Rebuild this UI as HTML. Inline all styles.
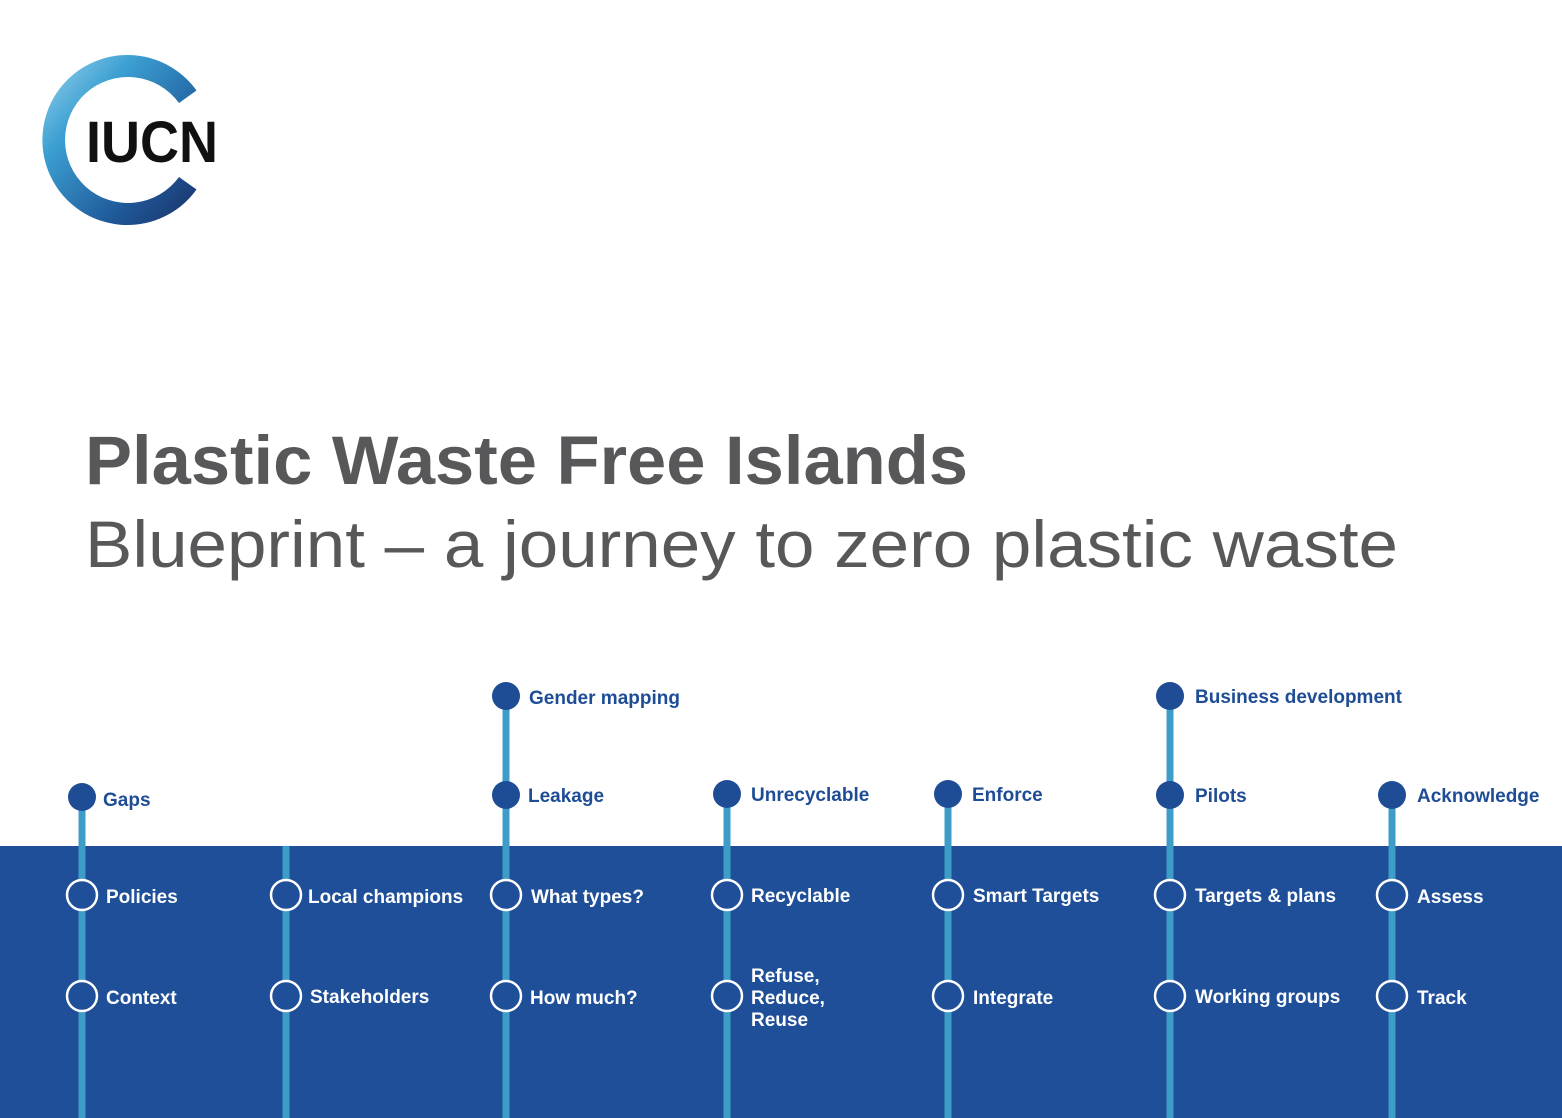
<!DOCTYPE html>
<html><head><meta charset="utf-8"><style>
body{margin:0;width:1562px;height:1118px;overflow:hidden;background:#fff;font-family:"Liberation Sans",sans-serif;}
</style></head><body>
<svg width="1562" height="1118" xmlns="http://www.w3.org/2000/svg" style="position:absolute;left:0;top:0">
<defs>
<linearGradient id="g" x1="0" y1="0" x2="1" y2="1">
<stop offset="0" stop-color="#9fd6ee"/><stop offset="0.3" stop-color="#3ca0d2"/><stop offset="0.7" stop-color="#1f5a9a"/><stop offset="1" stop-color="#1a2f66"/>
</linearGradient>
</defs>
<path d="M196.5,90.5 A85,85 0 1 0 196.5,189.5 L179,177 A63,63 0 1 1 179,103 Z" fill="url(#g)"/>
<text x="86" y="162" font-size="58" font-weight="bold" fill="#111" textLength="132" lengthAdjust="spacingAndGlyphs">IUCN</text>
<text x="85" y="484" font-size="69" font-weight="bold" fill="#58585a" textLength="883" lengthAdjust="spacingAndGlyphs">Plastic Waste Free Islands</text>
<text x="85" y="567" font-size="66" fill="#58585a" textLength="1313" lengthAdjust="spacingAndGlyphs">Blueprint – a journey to zero plastic waste</text>
<rect x="0" y="846" width="1562" height="272" fill="#1f4f99"/>
<g stroke="#3e9cc8" stroke-width="7">
<line x1="82" y1="797" x2="82" y2="1118"/>
<line x1="286" y1="846" x2="286" y2="1118"/>
<line x1="506" y1="697" x2="506" y2="1118"/>
<line x1="727" y1="795" x2="727" y2="1118"/>
<line x1="948" y1="795" x2="948" y2="1118"/>
<line x1="1170" y1="697" x2="1170" y2="1118"/>
<line x1="1392" y1="795" x2="1392" y2="1118"/>
</g>
<g fill="#1e4d96">
<circle cx="82" cy="797" r="14"/><circle cx="506" cy="696" r="14"/><circle cx="506" cy="795" r="14"/>
<circle cx="727" cy="794" r="14"/><circle cx="948" cy="794" r="14"/><circle cx="1170" cy="696" r="14"/>
<circle cx="1170" cy="795" r="14"/><circle cx="1392" cy="795" r="14"/>
</g>
<g fill="#1f4f99" stroke="#fff" stroke-width="2.5">
<circle cx="82" cy="895" r="15"/><circle cx="82" cy="996" r="15"/>
<circle cx="286" cy="895" r="15"/><circle cx="286" cy="996" r="15"/>
<circle cx="506" cy="895" r="15"/><circle cx="506" cy="996" r="15"/>
<circle cx="727" cy="895" r="15"/><circle cx="727" cy="996" r="15"/>
<circle cx="948" cy="895" r="15"/><circle cx="948" cy="996" r="15"/>
<circle cx="1170" cy="895" r="15"/><circle cx="1170" cy="996" r="15"/>
<circle cx="1392" cy="895" r="15"/><circle cx="1392" cy="996" r="15"/>
</g>
<g font-size="19" font-weight="bold" fill="#1e4d96">
<text x="103" y="806">Gaps</text>
<text x="529" y="704">Gender mapping</text>
<text x="528" y="802">Leakage</text>
<text x="751" y="801">Unrecyclable</text>
<text x="972" y="801">Enforce</text>
<text x="1195" y="703">Business development</text>
<text x="1195" y="802">Pilots</text>
<text x="1417" y="802">Acknowledge</text>
</g>
<g font-size="19" font-weight="bold" fill="#fff">
<text x="106" y="903">Policies</text>
<text x="106" y="1004">Context</text>
<text x="308" y="903">Local champions</text>
<text x="310" y="1003">Stakeholders</text>
<text x="531" y="903">What types?</text>
<text x="530" y="1004">How much?</text>
<text x="751" y="902">Recyclable</text>
<text x="751" y="982">Refuse,</text>
<text x="751" y="1004">Reduce,</text>
<text x="751" y="1026">Reuse</text>
<text x="973" y="902">Smart Targets</text>
<text x="973" y="1004">Integrate</text>
<text x="1195" y="902">Targets &amp; plans</text>
<text x="1195" y="1003">Working groups</text>
<text x="1417" y="903">Assess</text>
<text x="1417" y="1004">Track</text>
</g>
</svg>
</body></html>
